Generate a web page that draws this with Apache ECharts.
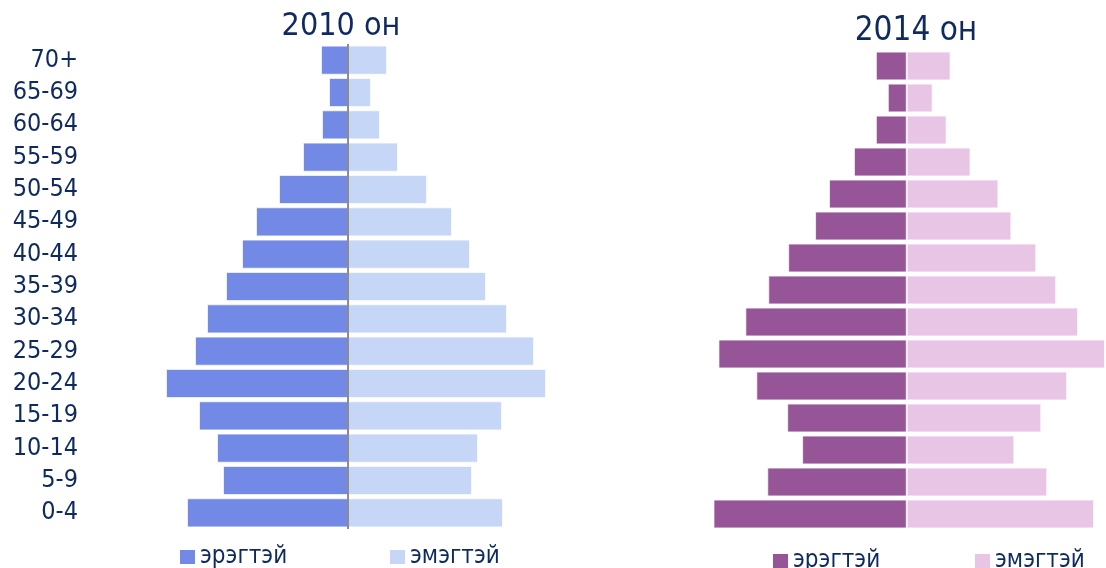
<!DOCTYPE html>
<html>
<head>
<meta charset="utf-8">
<script src="https://cdn.jsdelivr.net/npm/echarts@6/dist/echarts.min.js"></script>
<style>
  html, body { margin: 0; padding: 0; background: #fff; }
  #chart { width: 1106px; height: 568px; }
</style>
</head>
<body>
<div id="chart"></div>
<script>
// age groups, bottom to top
const ageGroups = ['0-4', '5-9', '10-14', '15-19', '20-24', '25-29', '30-34', '35-39',
  '40-44', '45-49', '50-54', '55-59', '60-64', '65-69', '70+'];

// population, thousand people
const male2010 = [161, 125, 131, 149, 182, 153, 141, 122, 106, 92, 69, 45, 26, 19, 27];
const female2010 = [155, 124, 130, 154, 198, 186, 159, 138, 122, 104, 79, 50, 32, 23, 39];
const male2014 = [194, 140, 105, 120, 151, 189, 162, 139, 119, 92, 78, 53, 31, 19, 31];
const female2014 = [188, 141, 108, 135, 161, 199, 172, 150, 130, 105, 92, 64, 40, 26, 44];

const titles = ['2010 он', '2014 он'];
const sexNames = ['эрэгтэй', 'эмэгтэй'];

const fontFamily = 'Tahoma, "DejaVu Sans Condensed", "Noto Sans", sans-serif';
const navy = '#0f2a5f';
const colors = {
  m2010: '#7389e6', f2010: '#c6d6f6',
  m2014: '#965597', f2014: '#e8c5e4'
};

const chart = echarts.init(document.getElementById('chart'));

// male bars go to the left
const neg = arr => arr.map(v => -v);

function barSeries(name, data, color, gridIdx) {
  return {
    name: name,
    type: 'bar',
    stack: 'pyr' + gridIdx,
    xAxisIndex: gridIdx,
    yAxisIndex: gridIdx,
    data: data,
    barCategoryGap: '10%',
    itemStyle: { color: color, borderColor: 'rgba(255,255,255,0.7)', borderWidth: 1 },
    emphasis: { disabled: true }
  };
}

function legendItem(name, color, left, top) {
  return {
    left: left,
    top: top,
    padding: 0,
    itemWidth: 15,
    itemHeight: 14,
    itemGap: 0,
    icon: 'rect',
    selectedMode: false,
    textStyle: { fontFamily: fontFamily, fontSize: 24, color: navy },
    data: [{ name: name, itemStyle: { color: color, borderWidth: 0 } }]
  };
}

const option = {
  animation: false,
  title: [
    { text: titles[0], left: 336, top: 6, textAlign: 'center',
      textStyle: { fontFamily: fontFamily, fontSize: 32, fontWeight: 'normal', color: navy } },
    { text: titles[1], left: 911, top: 10, textAlign: 'center',
      textStyle: { fontFamily: fontFamily, fontSize: 33, fontWeight: 'normal', color: navy } }
  ],
  legend: [
    legendItem(sexNames[0], colors.m2010, 180, 545),
    legendItem(sexNames[1], colors.f2010, 390, 545),
    legendItem(sexNames[0], colors.m2014, 773, 549),
    legendItem(sexNames[1], colors.f2014, 975, 549)
  ],
  grid: [
    { left: 148, width: 400, top: 44, height: 485 },
    { left: 707.5, width: 400, top: 50, height: 480 }
  ],
  xAxis: [0, 1].map(i => ({
    gridIndex: i, type: 'value', min: -200, max: 200,
    show: false, splitLine: { show: false }
  })),
  yAxis: [
    {
      gridIndex: 0, type: 'category', data: ageGroups,
      axisLine: { show: false, onZero: false },
      axisTick: { show: false },
      axisLabel: { interval: 0, margin: 70, fontFamily: fontFamily, fontSize: 25, color: navy }
    },
    {
      gridIndex: 1, type: 'category', data: ageGroups,
      axisLine: { show: false, onZero: false },
      axisTick: { show: false },
      axisLabel: { show: false }
    }
  ],
  series: [
    Object.assign(barSeries(sexNames[0], neg(male2010), colors.m2010, 0), {
      markLine: {
        silent: true, symbol: 'none', label: { show: false },
        lineStyle: { color: '#8c8c8c', width: 2, type: 'solid' },
        data: [{ xAxis: 0 }]
      }
    }),
    barSeries(sexNames[1], female2010, colors.f2010, 0),
    barSeries(sexNames[0], neg(male2014), colors.m2014, 1),
    barSeries(sexNames[1], female2014, colors.f2014, 1)
  ]
};

chart.setOption(option);
window.addEventListener('resize', () => chart.resize());
</script>
</body>
</html>
